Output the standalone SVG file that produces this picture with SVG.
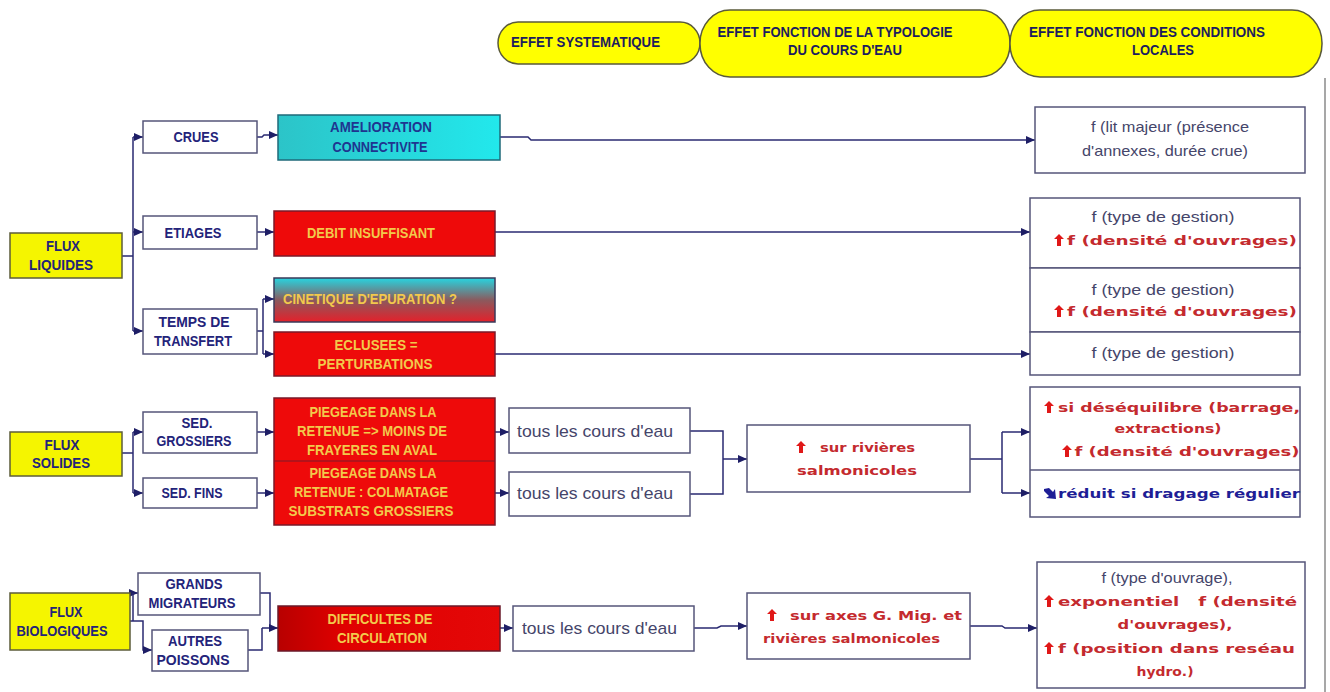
<svg xmlns="http://www.w3.org/2000/svg" width="1330" height="692" viewBox="0 0 1330 692">
<defs>
<style>
.lbl{font-family:"Liberation Sans Narrow","Liberation Sans",Arial,sans-serif;font-weight:bold;font-size:15px;fill:#23237a;text-anchor:middle}
.ylw{fill:#f2c94c}
.hdr{font-family:"Liberation Sans Narrow","Liberation Sans",Arial,sans-serif;font-weight:bold;font-size:14px;fill:#1c1c5e}
.gr{font-family:"Liberation Sans",Arial,sans-serif;font-size:15px;fill:#45456a;text-anchor:middle}
.rd{font-family:"DejaVu Sans",Verdana,sans-serif;font-weight:bold;font-size:13px;fill:#c42a2e;text-anchor:middle}
.bl{fill:#1e1e96}
.wbox{fill:#ffffff;stroke:#55557a;stroke-width:1.5}
.ybox{fill:#f5f500;stroke:#5c5c3a;stroke-width:1.5}
.pill{fill:#ffff00;stroke:#5a5a3a;stroke-width:1.5}
.rbox{fill:#ee0a0a;stroke:#7a1a2a;stroke-width:1.5}
.con{fill:none;stroke:#2a2a72;stroke-width:1.5}
.arr{marker-end:url(#ah)}
.up{fill:#e01818}
</style>
<marker id="ah" markerUnits="userSpaceOnUse" markerWidth="9" markerHeight="8" refX="9" refY="4" orient="auto">
<path d="M0,0 L9,4 L0,8 z" fill="#1e1e66"/>
</marker>
<linearGradient id="cyan" x1="0" y1="0" x2="1" y2="0">
<stop offset="0" stop-color="#2cc4c8"/><stop offset="1" stop-color="#22e8ec"/>
</linearGradient>
<linearGradient id="cin" x1="0" y1="0" x2="0" y2="1">
<stop offset="0" stop-color="#27d4e0"/><stop offset="0.5" stop-color="#8a5a5e"/><stop offset="1" stop-color="#e4202a"/>
</linearGradient>
<linearGradient id="dred" x1="0" y1="0" x2="1" y2="0">
<stop offset="0" stop-color="#b80000"/><stop offset="0.3" stop-color="#e00000"/><stop offset="1" stop-color="#e40808"/>
</linearGradient>
<path id="upa" d="M0,-6 L5,-1 L2,-1 L2,6 L-2,6 L-2,-1 L-5,-1 Z"/>
</defs>
<rect width="1330" height="692" fill="#ffffff"/>
<path d="M1325,78 V692" stroke="#8a8a8a" stroke-width="1.5" fill="none"/>

<g id="header">
<g id="h1"><rect class="pill" x="498" y="22" width="202" height="42" rx="20" ry="21"/>
<text class="hdr" x="511" y="47" textLength="149" lengthAdjust="spacingAndGlyphs">EFFET SYSTEMATIQUE</text></g>
<g id="h2"><rect class="pill" x="700" y="10" width="310" height="67" rx="30" ry="33"/>
<text class="hdr" x="835" y="37" text-anchor="middle" textLength="235" lengthAdjust="spacingAndGlyphs">EFFET FONCTION DE LA TYPOLOGIE</text>
<text class="hdr" x="845" y="55" text-anchor="middle" textLength="114" lengthAdjust="spacingAndGlyphs">DU COURS D'EAU</text></g>
<g id="h3"><rect class="pill" x="1010" y="10" width="312" height="67" rx="30" ry="33"/>
<text class="hdr" x="1147" y="37" text-anchor="middle" textLength="236" lengthAdjust="spacingAndGlyphs">EFFET FONCTION DES CONDITIONS</text>
<text class="hdr" x="1163" y="55" text-anchor="middle" textLength="62" lengthAdjust="spacingAndGlyphs">LOCALES</text></g>
</g>

<g id="connectors">
<path class="con" d="M122,256 H133 M133,137 V331"/>
<path class="con arr" d="M133,137 H143"/>
<path class="con arr" d="M133,232 H143"/>
<path class="con arr" d="M133,331 H143"/>
<path class="con arr" d="M257,137 H262 L264,135 H278"/>
<path class="con arr" d="M257,232 H274"/>
<path class="con" d="M257,331 H263 M263,299 V354"/>
<path class="con arr" d="M263,299 H274"/>
<path class="con arr" d="M263,354 H274"/>
<path class="con arr" d="M500,137 H528 L531,140 H1035"/>
<path class="con arr" d="M495,232 H1030"/>
<path class="con arr" d="M495,354 H1030"/>
<path class="con" d="M122,453 H133 M133,432 V493"/>
<path class="con arr" d="M133,432 H143"/>
<path class="con arr" d="M133,493 H143"/>
<path class="con arr" d="M257,432 H274"/>
<path class="con arr" d="M257,493 H274"/>
<path class="con arr" d="M495,432 H509"/>
<path class="con arr" d="M495,493 H509"/>
<path class="con" d="M690,431 H723 V494 H690"/>
<path class="con arr" d="M723,459 H747"/>
<path class="con" d="M970,459 H1002 M1002,432 V493"/>
<path class="con arr" d="M1002,432 H1030"/>
<path class="con arr" d="M1002,493 H1030"/>
<path class="con arr" d="M130,593 H138"/>
<path class="con" d="M133,593 V621"/>
<path class="con arr" d="M130,621 H143 V650 H152"/>
<path class="con" d="M260,593 H270 V628 M248,650 H262 V628"/>
<path class="con arr" d="M262,628 H278"/>
<path class="con arr" d="M500,628 H513"/>
<path class="con arr" d="M694,628 H717 L721,626 H747"/>
<path class="con arr" d="M970,626 H1002 L1005,628 H1037"/>
</g>

<g id="flux-liquides"><rect class="ybox" x="10" y="233" width="112" height="45"/>
<text class="lbl" x="63" y="251" textLength="34" lengthAdjust="spacingAndGlyphs">FLUX</text>
<text class="lbl" x="61" y="270" textLength="64" lengthAdjust="spacingAndGlyphs">LIQUIDES</text></g>

<g id="crues"><rect class="wbox" x="143" y="121" width="114" height="32"/>
<text class="lbl" x="196" y="142" textLength="45" lengthAdjust="spacingAndGlyphs">CRUES</text></g>
<g id="etiages"><rect class="wbox" x="143" y="216" width="114" height="33"/>
<text class="lbl" x="193" y="238" textLength="57" lengthAdjust="spacingAndGlyphs">ETIAGES</text></g>
<g id="temps"><rect class="wbox" x="143" y="309" width="114" height="45"/>
<text class="lbl" x="194" y="327" textLength="71" lengthAdjust="spacingAndGlyphs">TEMPS DE</text>
<text class="lbl" x="193" y="346" textLength="78" lengthAdjust="spacingAndGlyphs">TRANSFERT</text></g>

<g id="amelioration"><rect x="278" y="115" width="222" height="45" fill="url(#cyan)" stroke="#1f6a7a" stroke-width="1.5"/>
<text class="lbl" x="381" y="132" textLength="102" lengthAdjust="spacingAndGlyphs" style="fill:#1f3590">AMELIORATION</text>
<text class="lbl" x="380" y="152" textLength="95" lengthAdjust="spacingAndGlyphs" style="fill:#1f3590">CONNECTIVITE</text></g>
<g id="debit"><rect class="rbox" x="274" y="211" width="221" height="45"/>
<text class="lbl ylw" x="371" y="238" textLength="128" lengthAdjust="spacingAndGlyphs">DEBIT INSUFFISANT</text></g>
<g id="cinetique"><rect x="274" y="278" width="221" height="44" fill="url(#cin)" stroke="#3a3a5a" stroke-width="1.5"/>
<text class="lbl ylw" x="370" y="304" textLength="174" lengthAdjust="spacingAndGlyphs">CINETIQUE D'EPURATION ?</text></g>
<g id="eclusees"><rect class="rbox" x="274" y="332" width="221" height="44"/>
<text class="lbl ylw" x="376" y="350" textLength="83" lengthAdjust="spacingAndGlyphs">ECLUSEES =</text>
<text class="lbl ylw" x="375" y="369" textLength="115" lengthAdjust="spacingAndGlyphs">PERTURBATIONS</text></g>

<g id="flit"><rect class="wbox" x="1035" y="107" width="270" height="66"/>
<text class="gr" x="1170" y="132" textLength="158" lengthAdjust="spacingAndGlyphs">f (lit majeur (présence</text>
<text class="gr" x="1165" y="156" textLength="166" lengthAdjust="spacingAndGlyphs">d'annexes, durée crue)</text></g>

<g id="gestion1"><rect class="wbox" x="1030" y="198" width="270" height="70"/>
<text class="gr" x="1163" y="222" textLength="143" lengthAdjust="spacingAndGlyphs">f (type de gestion)</text>
<use href="#upa" class="up" x="1059" y="240"/>
<text class="rd" x="1182" y="245" textLength="230" lengthAdjust="spacingAndGlyphs">f (densité d'ouvrages)</text></g>
<g id="gestion2"><rect class="wbox" x="1030" y="268" width="270" height="64"/>
<text class="gr" x="1163" y="295" textLength="143" lengthAdjust="spacingAndGlyphs">f (type de gestion)</text>
<use href="#upa" class="up" x="1059" y="311"/>
<text class="rd" x="1182" y="316" textLength="230" lengthAdjust="spacingAndGlyphs">f (densité d'ouvrages)</text></g>
<g id="gestion3"><rect class="wbox" x="1030" y="332" width="270" height="43"/>
<text class="gr" x="1163" y="358" textLength="143" lengthAdjust="spacingAndGlyphs">f (type de gestion)</text></g>

<g id="flux-solides"><rect class="ybox" x="10" y="432" width="112" height="44"/>
<text class="lbl" x="62" y="450" textLength="35" lengthAdjust="spacingAndGlyphs">FLUX</text>
<text class="lbl" x="61" y="468" textLength="58" lengthAdjust="spacingAndGlyphs">SOLIDES</text></g>
<g id="sed-grossiers"><rect class="wbox" x="143" y="412" width="114" height="41"/>
<text class="lbl" x="197" y="428" textLength="31" lengthAdjust="spacingAndGlyphs">SED.</text>
<text class="lbl" x="194" y="446" textLength="75" lengthAdjust="spacingAndGlyphs">GROSSIERS</text></g>
<g id="sed-fins"><rect class="wbox" x="143" y="478" width="114" height="30"/>
<text class="lbl" x="192" y="498" textLength="61" lengthAdjust="spacingAndGlyphs">SED. FINS</text></g>

<g id="piegeage"><rect class="rbox" x="274" y="398" width="221" height="127"/>
<path d="M274,461 H495" stroke="#7a1a2a" stroke-width="1.2"/>
<text class="lbl ylw" x="373" y="417" textLength="127" lengthAdjust="spacingAndGlyphs">PIEGEAGE DANS LA</text>
<text class="lbl ylw" x="372" y="436" textLength="150" lengthAdjust="spacingAndGlyphs">RETENUE =&gt; MOINS DE</text>
<text class="lbl ylw" x="372" y="455" textLength="130" lengthAdjust="spacingAndGlyphs">FRAYERES EN AVAL</text>
<text class="lbl ylw" x="373" y="478" textLength="127" lengthAdjust="spacingAndGlyphs">PIEGEAGE DANS LA</text>
<text class="lbl ylw" x="371" y="497" textLength="154" lengthAdjust="spacingAndGlyphs">RETENUE : COLMATAGE</text>
<text class="lbl ylw" x="371" y="516" textLength="165" lengthAdjust="spacingAndGlyphs">SUBSTRATS GROSSIERS</text></g>

<g id="tous1"><rect class="wbox" x="509" y="408" width="181" height="45"/>
<text class="gr" x="517" y="437" style="text-anchor:start;font-size:17px" textLength="156" lengthAdjust="spacingAndGlyphs">tous les cours d'eau</text></g>
<g id="tous2"><rect class="wbox" x="509" y="472" width="181" height="44"/>
<text class="gr" x="517" y="499" style="text-anchor:start;font-size:17px" textLength="156" lengthAdjust="spacingAndGlyphs">tous les cours d'eau</text></g>

<g id="rivieres"><rect class="wbox" x="747" y="425" width="223" height="67"/>
<use href="#upa" class="up" x="801" y="447"/>
<text class="rd" x="820" y="452" style="text-anchor:start" textLength="95" lengthAdjust="spacingAndGlyphs">sur rivières</text>
<text class="rd" x="857" y="475" textLength="120" lengthAdjust="spacingAndGlyphs">salmonicoles</text></g>

<g id="desequilibre"><rect class="wbox" x="1030" y="387" width="270" height="130"/>
<path d="M1030,470 H1300" stroke="#55557a" stroke-width="1.5"/>
<use href="#upa" class="up" x="1049" y="407"/>
<text class="rd" x="1179" y="412" textLength="242" lengthAdjust="spacingAndGlyphs">si déséquilibre (barrage,</text>
<text class="rd" x="1168" y="433" textLength="107" lengthAdjust="spacingAndGlyphs">extractions)</text>
<use href="#upa" class="up" x="1067" y="451"/>
<text class="rd" x="1187" y="456" textLength="225" lengthAdjust="spacingAndGlyphs">f (densité d'ouvrages)</text>
<path class="bl" d="M1044,489 L1049,488 L1053,492 L1055,489 L1056,499 L1046,498 L1049,496 L1044,491 Z"/>
<text class="rd bl" x="1179" y="498" textLength="242" lengthAdjust="spacingAndGlyphs">réduit si dragage régulier</text></g>

<g id="flux-biologiques"><rect class="ybox" x="10" y="593" width="120" height="57"/>
<text class="lbl" x="66" y="617" textLength="33" lengthAdjust="spacingAndGlyphs">FLUX</text>
<text class="lbl" x="62" y="636" textLength="91" lengthAdjust="spacingAndGlyphs">BIOLOGIQUES</text></g>
<g id="grands"><rect class="wbox" x="138" y="573" width="122" height="42"/>
<text class="lbl" x="194" y="589" textLength="57" lengthAdjust="spacingAndGlyphs">GRANDS</text>
<text class="lbl" x="192" y="608" textLength="87" lengthAdjust="spacingAndGlyphs">MIGRATEURS</text></g>
<g id="autres"><rect class="wbox" x="152" y="630" width="96" height="41"/>
<text class="lbl" x="195" y="646" textLength="54" lengthAdjust="spacingAndGlyphs">AUTRES</text>
<text class="lbl" x="193" y="665" textLength="73" lengthAdjust="spacingAndGlyphs">POISSONS</text></g>
<g id="difficultes"><rect x="278" y="606" width="222" height="45" fill="url(#dred)" stroke="#6a1a2a" stroke-width="1.5"/>
<text class="lbl ylw" x="380" y="624" textLength="105" lengthAdjust="spacingAndGlyphs">DIFFICULTES DE</text>
<text class="lbl ylw" x="382" y="643" textLength="90" lengthAdjust="spacingAndGlyphs">CIRCULATION</text></g>
<g id="tous3"><rect class="wbox" x="513" y="606" width="181" height="45"/>
<text class="gr" x="522" y="634" style="text-anchor:start;font-size:17px" textLength="155" lengthAdjust="spacingAndGlyphs">tous les cours d'eau</text></g>
<g id="axes"><rect class="wbox" x="747" y="593" width="223" height="66"/>
<use href="#upa" class="up" x="772" y="615"/>
<text class="rd" x="790" y="620" style="text-anchor:start" textLength="172" lengthAdjust="spacingAndGlyphs">sur axes G. Mig. et</text>
<text class="rd" x="763" y="643" style="text-anchor:start" textLength="177" lengthAdjust="spacingAndGlyphs">rivières salmonicoles</text></g>
<g id="ouvrage"><rect class="wbox" x="1037" y="562" width="268" height="126"/>
<text class="gr" x="1167" y="583" textLength="131" lengthAdjust="spacingAndGlyphs">f (type d'ouvrage),</text>
<use href="#upa" class="up" x="1049" y="601"/>
<text class="rd" x="1058" y="606" style="text-anchor:start;white-space:pre" xml:space="preserve" textLength="239" lengthAdjust="spacingAndGlyphs">exponentiel   f (densité</text>
<text class="rd" x="1175" y="629" textLength="115" lengthAdjust="spacingAndGlyphs">d'ouvrages),</text>
<use href="#upa" class="up" x="1049" y="648"/>
<text class="rd" x="1058" y="653" style="text-anchor:start" textLength="237" lengthAdjust="spacingAndGlyphs">f (position dans reséau</text>
<text class="rd" x="1165" y="676" textLength="57" lengthAdjust="spacingAndGlyphs">hydro.)</text></g>
</svg>
